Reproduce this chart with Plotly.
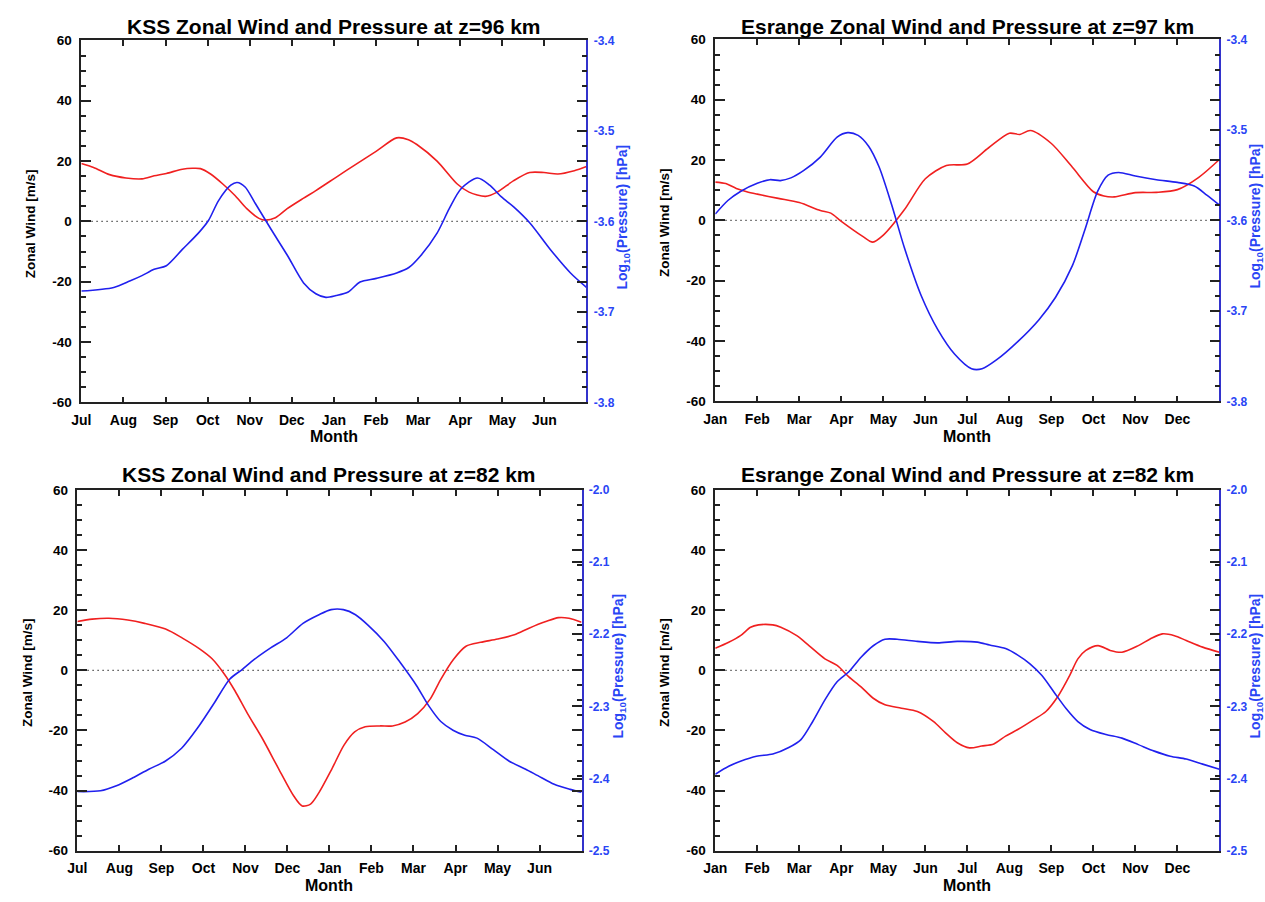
import plotly.graph_objects as go

# ---------------- data ----------------
months_jul = ["Jul", "Aug", "Sep", "Oct", "Nov", "Dec", "Jan", "Feb", "Mar", "Apr", "May", "Jun"]
months_jan = ["Jan", "Feb", "Mar", "Apr", "May", "Jun", "Jul", "Aug", "Sep", "Oct", "Nov", "Dec"]

wind_ticks = [-60, -40, -20, 0, 20, 40, 60]
wind_tick_text = ["-60", "-40", "-20", "0", "20", "40", "60"]
p_hi_ticks = [-3.8, -3.7, -3.6, -3.5, -3.4]
p_hi_text = ["-3.8", "-3.7", "-3.6", "-3.5", "-3.4"]
p_lo_ticks = [-2.5, -2.4, -2.3, -2.2, -2.1, -2.0]
p_lo_text = ["-2.5", "-2.4", "-2.3", "-2.2", "-2.1", "-2.0"]

# KSS 96 km (months counted from July)
kss96_wind_m = [0, 0.29, 0.67, 1.06, 1.44, 1.73, 2.02, 2.40, 2.64, 2.83, 3.07, 3.36, 3.65, 3.93, 4.22, 4.37,
                4.61, 4.89, 5.28, 5.57, 6.05, 6.53, 7.01, 7.49, 7.77, 7.97, 8.45, 8.93, 9.21, 9.60, 9.88,
                10.27, 10.65, 10.99, 11.32, 11.71, 12]
kss96_wind = [19.2, 17.9, 15.5, 14.4, 14.1, 15.1, 15.9, 17.3, 17.6, 17.5, 15.7, 12.4, 8.6, 4.2, 1.0, 0.4,
              1.2, 4.2, 7.7, 10.2, 14.6, 19.0, 23.3, 27.7, 27.1, 25.5, 20.0, 12.4, 9.7, 8.3, 9.7,
              13.5, 16.2, 16.2, 15.7, 16.8, 18.2]
kss96_pres_m = [0, 0.77, 1.15, 1.44, 1.73, 2.02, 2.40, 2.78, 3.02, 3.26, 3.55, 3.70, 3.89, 4.13, 4.51, 4.90,
                5.28, 5.57, 5.81, 6.05, 6.34, 6.62, 7.01, 7.49, 7.78, 8.06, 8.45, 8.74, 9.02, 9.41, 9.70,
                9.98, 10.27, 10.66, 11.14, 11.62, 12]
kss96_pres = [-3.677, -3.673, -3.666, -3.660, -3.653, -3.649, -3.631, -3.613, -3.599, -3.577, -3.560, -3.557,
              -3.562, -3.580, -3.609, -3.638, -3.668, -3.680, -3.684, -3.682, -3.678, -3.667, -3.663, -3.657,
              -3.651, -3.638, -3.613, -3.586, -3.564, -3.552, -3.560, -3.573, -3.584, -3.602, -3.631, -3.657,
              -3.673]

# Esrange 97 km (months counted from January)
esr97_wind_m = [0, 0.25, 0.5, 0.75, 1, 1.5, 2, 2.5, 2.75, 3, 3.5, 3.75, 4, 4.5, 5, 5.5, 6, 6.5, 7, 7.25,
                7.5, 8, 8.5, 9, 9.25, 9.5, 10, 10.5, 11, 11.5, 12]
esr97_wind = [12.7, 12.2, 10.6, 9.5, 8.7, 7.3, 5.9, 3.3, 2.4, -0.3, -5.2, -7.2, -4.9, 3.5, 13.8, 18.2, 18.7,
              24.0, 28.9, 28.5, 29.8, 25.5, 17.6, 9.5, 8.1, 7.8, 9.2, 9.3, 10.2, 14.2, 20.2]
esr97_pres_m = [0, 0.3, 0.6, 1, 1.3, 1.55, 1.8, 2.1, 2.5, 2.9, 3.15, 3.4, 3.65, 3.9, 4.2, 4.5, 4.9, 5.3, 5.7,
                6.1, 6.35, 6.7, 7.2, 7.7, 8.1, 8.5, 8.8, 9.1, 9.35, 9.6, 10, 10.5, 11, 11.4, 11.7, 12]
esr97_pres = [-3.593, -3.578, -3.568, -3.559, -3.555, -3.556, -3.553, -3.545, -3.530, -3.508, -3.503, -3.506,
              -3.518, -3.541, -3.583, -3.630, -3.683, -3.721, -3.748, -3.764, -3.764, -3.754, -3.734, -3.710,
              -3.685, -3.650, -3.610, -3.568, -3.550, -3.547, -3.551, -3.555, -3.558, -3.562, -3.572, -3.583]

# KSS 82 km (months counted from July)
kss82_wind_m = [0, 0.35, 0.75, 1.2, 1.6, 2.1, 2.5, 2.9, 3.2, 3.5, 3.75, 4.05, 4.4, 4.8, 5.15, 5.35, 5.55,
                5.75, 6.05, 6.35, 6.6, 6.85, 7.2, 7.5, 7.8, 8.1, 8.4, 8.65, 8.95, 9.25, 9.6, 10, 10.4,
                10.75, 11.15, 11.45, 11.7, 12]
kss82_wind = [16.2, 17.0, 17.3, 16.7, 15.6, 13.7, 10.7, 7.2, 3.9, -1.3, -6.8, -14.4, -22.6, -33.0, -41.8,
              -45.1, -44.5, -40.7, -33.0, -24.8, -20.5, -18.8, -18.5, -18.5, -17.2, -14.4, -9.5, -3.0, 3.6,
              8.0, 9.3, 10.4, 11.8, 14.0, 16.2, 17.5, 17.3, 16.0]
kss82_pres_m = [0, 0.55, 0.93, 1.32, 1.7, 2.09, 2.48, 2.86, 3.25, 3.63, 3.92, 4.21, 4.6, 4.98, 5.37, 5.75,
                6.04, 6.33, 6.62, 6.91, 7.3, 7.68, 8.07, 8.36, 8.65, 8.94, 9.22, 9.51, 9.9, 10.28, 10.67,
                10.96, 11.35, 11.73, 12]
kss82_pres = [-2.418, -2.417, -2.410, -2.399, -2.387, -2.376, -2.358, -2.330, -2.296, -2.262, -2.249, -2.235,
              -2.219, -2.205, -2.185, -2.173, -2.166, -2.166, -2.173, -2.187, -2.210, -2.239, -2.271, -2.299,
              -2.321, -2.333, -2.340, -2.344, -2.360, -2.376, -2.387, -2.396, -2.408, -2.415, -2.419]

# Esrange 82 km (months counted from January)
esr82_wind_m = [0, 0.32, 0.60, 0.84, 1.03, 1.37, 1.56, 1.94, 2.23, 2.61, 2.90, 3.18, 3.47, 3.76, 4.04, 4.43,
                4.81, 5.19, 5.48, 5.76, 6.05, 6.34, 6.63, 6.91, 7.20, 7.58, 7.87, 8.15, 8.44, 8.63, 8.82,
                9.11, 9.40, 9.68, 10.07, 10.35, 10.64, 10.93, 11.21, 11.60, 12]
esr82_wind = [7.3, 9.3, 11.5, 14.3, 15.1, 15.1, 14.3, 11.5, 8.2, 3.8, 1.6, -2.2, -5.5, -9.3, -11.5, -12.6,
              -13.7, -17.0, -20.8, -24.1, -25.8, -25.2, -24.5, -21.9, -19.7, -16.4, -13.7, -8.8, -1.6, 3.8,
              6.6, 8.2, 6.6, 6.0, 8.2, 10.4, 12.1, 11.5, 9.9, 7.7, 6.0]
esr82_pres_m = [0, 0.32, 0.60, 0.98, 1.37, 1.75, 2.04, 2.32, 2.61, 2.90, 3.18, 3.47, 3.76, 4.04, 4.33, 4.81,
                5.29, 5.76, 6.24, 6.53, 6.91, 7.20, 7.49, 7.77, 8.06, 8.35, 8.63, 8.92, 9.30, 9.68, 10.07,
                10.45, 10.83, 11.21, 11.60, 12]
esr82_pres = [-2.394, -2.383, -2.376, -2.369, -2.366, -2.357, -2.346, -2.321, -2.291, -2.266, -2.252, -2.232,
              -2.216, -2.207, -2.207, -2.210, -2.212, -2.210, -2.211, -2.215, -2.220, -2.229, -2.241, -2.257,
              -2.280, -2.303, -2.321, -2.332, -2.339, -2.344, -2.353, -2.362, -2.369, -2.373, -2.380, -2.387]

titles = ["KSS Zonal Wind and Pressure at z=96 km", "Esrange Zonal Wind and Pressure at z=97 km",
          "KSS Zonal Wind and Pressure at z=82 km", "Esrange Zonal Wind and Pressure at z=82 km"]

# ---------------- layout helpers ----------------
W, H = 1265, 902


def xd(px):
    return px / W


def yd(py):
    return 1 - py / H


FONT = "Liberation Sans, Arial, Helvetica, sans-serif"
RED = "#f02020"
BLUE = "#2020ee"
BLUE_TXT = "#2a45f5"
AX = "#222222"

panels = [
    dict(box=(70, 580, 34, 402), months=months_jul, wm=kss96_wind_m, w=kss96_wind, pm=kss96_pres_m,
         p=kss96_pres, pt=p_hi_ticks, ptt=p_hi_text, pr=[-3.8, -3.4], title=titles[0],
         ty=20, my=437, lx=19, rx=617),
    dict(box=(710, 1219, 33, 401), months=months_jan, wm=esr97_wind_m, w=esr97_wind, pm=esr97_pres_m,
         p=esr97_pres, pt=p_hi_ticks, ptt=p_hi_text, pr=[-3.8, -3.4], title=titles[1],
         ty=20, my=437, lx=659, rx=1256),
    dict(box=(66, 575, 491, 858), months=months_jul, wm=kss82_wind_m, w=kss82_wind, pm=kss82_pres_m,
         p=kss82_pres, pt=p_lo_ticks, ptt=p_lo_text, pr=[-2.5, -2.0], title=titles[2],
         ty=475, my=893, lx=15, rx=613),
    dict(box=(710, 1219, 491, 858), months=months_jan, wm=esr82_wind_m, w=esr82_wind, pm=esr82_pres_m,
         p=esr82_pres, pt=p_lo_ticks, ptt=p_lo_text, pr=[-2.5, -2.0], title=titles[3],
         ty=475, my=893, lx=659, rx=1256),
]

fig = go.Figure()
layout = dict(
    width=W, height=H, margin=dict(l=0, r=0, t=0, b=0),
    paper_bgcolor="white", plot_bgcolor="white", showlegend=False,
    font=dict(family=FONT, color="black"),
)
annotations = []
shapes = []

for i, P in enumerate(panels, start=1):
    x0, x1, y0, y1 = P["box"]
    xname = "x" if i == 1 else f"x{i}"
    yl = 2 * i - 1
    yr = 2 * i
    ylname = "y" if yl == 1 else f"y{yl}"
    yrname = f"y{yr}"
    xkey = "xaxis" if i == 1 else f"xaxis{i}"
    ylkey = "yaxis" if yl == 1 else f"yaxis{yl}"
    yrkey = f"yaxis{yr}"

    layout[xkey] = dict(
        domain=[xd(x0), xd(x1)], anchor=ylname, range=[0, 12],
        tickvals=list(range(12)), ticktext=P["months"],
        ticks="inside", ticklen=6, tickwidth=1.5, tickcolor=AX,
        showline=True, linecolor=AX, linewidth=1.5, mirror="ticks",
        showgrid=False, zeroline=False,
        tickfont=dict(family=FONT, size=14, weight="bold", color="black"),
        ticklabelstandoff=4,
    )
    layout[ylkey] = dict(
        domain=[yd(y1), yd(y0)], anchor=xname, range=[-60, 60],
        tickvals=wind_ticks, ticktext=wind_tick_text,
        ticks="inside", ticklen=10, tickwidth=1.5, tickcolor=AX,
        minor=dict(dtick=5, tick0=0, ticks="inside", ticklen=5, tickwidth=1.5, tickcolor=AX),
        showline=True, linecolor=AX, linewidth=1.5, mirror="ticks",
        showgrid=False, zeroline=False,
        tickfont=dict(family=FONT, size=13.5, weight="bold", color="black"),
        ticklabelstandoff=5,
    )
    layout[yrkey] = dict(
        overlaying=ylname, side="right", anchor=xname, range=P["pr"],
        tickvals=P["pt"], ticktext=P["ptt"],
        ticks="inside", ticklen=10, tickwidth=1.5, tickcolor=AX,
        showline=True, linecolor="#3333cc", linewidth=1.5,
        showgrid=False, zeroline=False,
        tickfont=dict(family=FONT, size=12, weight="bold", color=BLUE_TXT),
        ticklabelstandoff=3,
    )

    fig.add_trace(go.Scatter(x=P["wm"], y=P["w"], mode="lines", xaxis=xname, yaxis=ylname,
                             line=dict(color=RED, width=1.6, shape="spline", smoothing=0.8),
                             hoverinfo="skip"))
    fig.add_trace(go.Scatter(x=P["pm"], y=P["p"], mode="lines", xaxis=xname, yaxis=yrname,
                             line=dict(color=BLUE, width=1.6, shape="spline", smoothing=0.8),
                             hoverinfo="skip"))

    shapes.append(dict(type="line", xref=f"{xname} domain", yref=ylname, x0=0, x1=1, y0=0, y1=0,
                       line=dict(color="#555555", width=1.2, dash="1.5px,3.5px"), layer="below"))

    cx = (x0 + x1) / 2
    annotations.append(dict(text=P["title"], xref="paper", yref="paper", x=xd(cx), y=yd(P["ty"]),
                            xanchor="center", yanchor="middle", showarrow=False,
                            font=dict(family=FONT, size=21, weight="bold", color="black")))
    annotations.append(dict(text="Month", xref="paper", yref="paper", x=xd(cx), y=yd(P["my"]),
                            xanchor="center", yanchor="middle", showarrow=False,
                            font=dict(family=FONT, size=16, weight="bold", color="black")))
    cy = (y0 + y1) / 2
    annotations.append(dict(text="Zonal Wind [m/s]", xref="paper", yref="paper", x=xd(P["lx"]),
                            y=yd(cy + 2), xanchor="center", yanchor="middle", textangle=-90,
                            showarrow=False,
                            font=dict(family=FONT, size=13.5, weight="bold", color="black")))
    annotations.append(dict(text="Log<sub>10</sub>(Pressure) [hPa]", xref="paper", yref="paper",
                            x=xd(P["rx"]), y=yd(cy - 4), xanchor="center", yanchor="middle",
                            textangle=-90, showarrow=False,
                            font=dict(family=FONT, size=14, weight="bold", color=BLUE_TXT)))

layout["annotations"] = annotations
layout["shapes"] = shapes
fig.update_layout(**layout)

fig.write_html("out.html", config={"displayModeBar": False},
               post_script="document.body.style.margin='0';")
